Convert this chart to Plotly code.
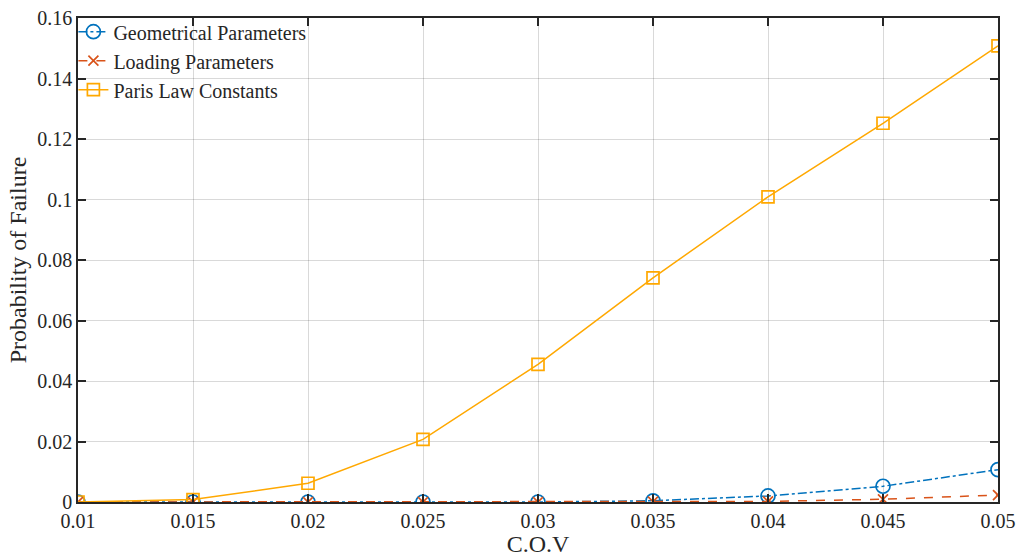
import plotly.graph_objects as go

cov = [0.01, 0.015, 0.02, 0.025, 0.03, 0.035, 0.04, 0.045, 0.05]
geometrical = [0.0, 0.0, 0.0, 0.0, 0.0, 0.0004, 0.002, 0.0052, 0.0107]
loading = [0.0, 0.0, 0.0, 0.0, 0.0, 0.0001, 0.0002, 0.0009, 0.0023]
paris = [0.0, 0.0008, 0.0062, 0.0207, 0.0455, 0.0741, 0.1009, 0.1252, 0.1508]

x_ticks = [0.01, 0.015, 0.02, 0.025, 0.03, 0.035, 0.04, 0.045, 0.05]
x_tick_text = ["0.01", "0.015", "0.02", "0.025", "0.03", "0.035", "0.04", "0.045", "0.05"]
y_ticks = [0, 0.02, 0.04, 0.06, 0.08, 0.1, 0.12, 0.14, 0.16]
y_tick_text = ["0", "0.02", "0.04", "0.06", "0.08", "0.1", "0.12", "0.14", "0.16"]

BLUE = "#0072BD"
ORANGE = "#D95319"
YELLOW = "#FFA800"
FONT = "Liberation Serif"

fig = go.Figure()
fig.add_trace(go.Scatter(
    x=cov, y=geometrical, name="Geometrical Parameters", mode="lines+markers",
    line=dict(color=BLUE, width=1.5, dash="dashdot"),
    marker=dict(symbol="circle-open", size=14, color=BLUE, line=dict(width=1.7)),
))
fig.add_trace(go.Scatter(
    x=cov, y=loading, name="Loading Parameters", mode="lines+markers",
    line=dict(color=ORANGE, width=1.5, dash="dash"),
    marker=dict(symbol="x-thin-open", size=10, color=ORANGE, line=dict(width=1.7, color=ORANGE)),
))
fig.add_trace(go.Scatter(
    x=cov, y=paris, name="Paris Law Constants", mode="lines+markers",
    line=dict(color=YELLOW, width=1.5),
    marker=dict(symbol="square-open", size=12, color=YELLOW, line=dict(width=1.7)),
))

axis_common = dict(
    showgrid=True, gridcolor="rgba(0,0,0,0.15)", gridwidth=1,
    showline=True, linecolor="#262626", linewidth=1.5, mirror="ticks",
    ticks="inside", ticklen=8, tickwidth=1.5, tickcolor="#262626",
    zeroline=False, automargin=False,
    tickfont=dict(family=FONT, size=20, color="#262626"),
)

fig.update_xaxes(
    range=[0.01, 0.05], tickvals=x_ticks, ticktext=x_tick_text,
    title=dict(text="C.O.V", font=dict(family=FONT, size=24, color="#262626"), standoff=0),
    **axis_common,
)
fig.update_yaxes(
    range=[0, 0.16], tickvals=y_ticks, ticktext=y_tick_text,
    title=dict(text="Probability of Failure", font=dict(family=FONT, size=24, color="#262626"), standoff=4),
    **axis_common,
)

fig.update_layout(
    width=1019, height=557,
    margin=dict(l=78, r=21, t=14, b=55),
    paper_bgcolor="white", plot_bgcolor="white",
    font=dict(family=FONT, color="#262626"),
    legend=dict(
        x=-0.005, y=1.012, xanchor="left", yanchor="top",
        bgcolor="rgba(255,255,255,0)", borderwidth=0,
        font=dict(family=FONT, size=20, color="#262626"),
        itemwidth=30, tracegroupgap=0,
    ),
    showlegend=True,
)

fig.write_html("out.html")
